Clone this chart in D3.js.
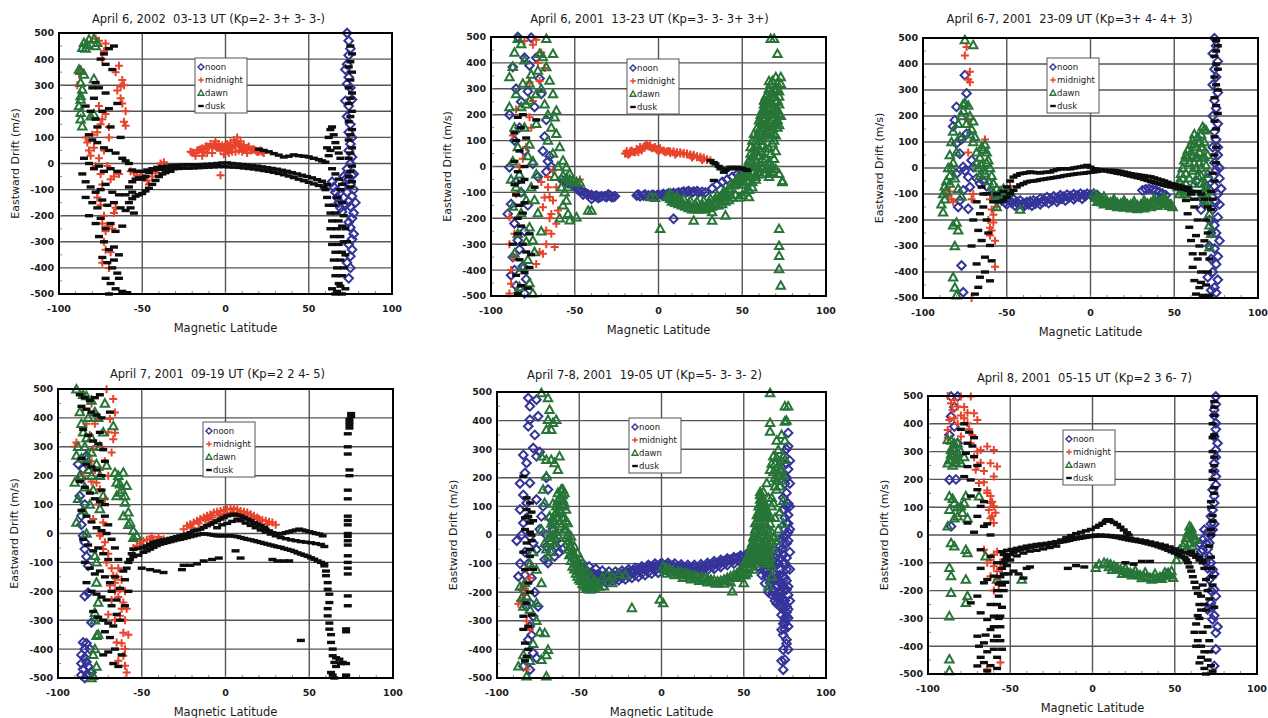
<!DOCTYPE html>
<html>
<head>
<meta charset="utf-8">
<script src="https://cdn.jsdelivr.net/npm/d3@7"></script>
<style>
  body { margin: 0; background: #fff; }
  svg { display: block; font-family: "DejaVu Sans", Verdana, sans-serif; }
</style>
</head>
<body>
<svg id="chart" width="1268" height="718"></svg>
<script>
// ---- data: [magnetic latitude, eastward drift m/s] ----
const seriesNames = ['noon', 'midnight', 'dawn', 'dusk'];
const xTicks = [-100, -50, 0, 50, 100];
const yTicks = [-500, -400, -300, -200, -100, 0, 100, 200, 300, 400, 500];
const titles = [
  'April 6, 2002  03-13 UT (Kp=2- 3+ 3- 3-)',
  'April 6, 2001  13-23 UT (Kp=3- 3- 3+ 3+)',
  'April 6-7, 2001  23-09 UT (Kp=3+ 4- 4+ 3)',
  'April 7, 2001  09-19 UT (Kp=2 2 4- 5)',
  'April 7-8, 2001  19-05 UT (Kp=5- 3- 3- 2)',
  'April 8, 2001  05-15 UT (Kp=2 3 6- 7)'
];

// panel 1
const p1Noon = [[73,500],[74,470],[75,440],[74,415],[73,380],[72,360],[74,330],[73,305],[75,290],[72,240],[74,220],[76,245],[73,180],[75,150],[74,120],[76,100],[75,75],[74,50],[76,25],[75,0],[73,-20],[76,-45],[74,-60],[75,-80],[77,-100],[76,-125],[74,-145],[75,-165],[77,-190],[76,-210],[74,-225],[75,-245],[77,-270],[76,-290],[74,-310],[76,-330],[75,-355],[73,-380],[75,-400],[74,-440],[64,-70],[65,-90],[66,-110],[67,-130],[68,-150],[69,-170],[70,-185],[72,-160],[71,-130],[73,-110],[70,-90],[72,-60],[78,-150],[77,-40],[71,-50]];
const p1Midnight = [[-78,478],[-76,470],[-73,430],[-72,460],[-74,400],[-64,375],[-66,350],[-62,320],[-63,295],[-65,280],[-61,300],[-63,250],[-62,230],[-60,200],[-61,160],[-60,145],[-89,300],[-88,345],[-87,360],[-84,100],[-83,80],[-82,50],[-81,30],[-80,110],[-79,60],[-78,-10],[-76,20],[-75,-40],[-74,-80],[-77,-130],[-75,-160],[-73,-200],[-74,-230],[-71,-240],[-72,-260],[-73,-300],[-72,-330],[-74,-380],[-70,-400],[-69,-340],[-68,-250],[-67,-190],[-66,-170],[-69,-60],[-70,100],[-72,190],[-74,170],[-75,150],[-70,140],[-67,-50],[-64,-40],[-71,-10],[-73,50],[-76,220],[-77,120],
  [-57,-30],[-55,-35],[-53,-45],[-51,-50],[-49,-55],[-47,-65],[-46,-80],[-44,-50],[-42,-35],[-40,-15],[-39,0],[-37,5],
  [-21,45],[-19,40],[-17,50],[-15,55],[-13,45],[-12,65],[-10,60],[-9,75],[-7,70],[-6,85],[-5,60],[-4,75],[-3,50],[-2,70],[-1,60],[0,55],[1,75],[2,65],[3,80],[4,60],[5,90],[6,70],[7,100],[8,75],[9,85],[10,60],[11,70],[12,55],[14,65],[15,50],[17,55],[19,45],[21,50],[23,40],[-3,-45],[-8,40],[-14,30],[2,40],[6,45],[10,45],[-11,40],[13,40],[-18,30],[-1,35],[8,50],[4,45],
  [-20,42],[-16,52],[-14,58],[-11,65],[-8,62],[-6,65],[-4,65],[-2,60],[0,70],[1,55],[3,58],[5,70],[7,82],[9,65],[11,60],[13,60],[16,52],[18,50],[20,45],[22,45]];
const p1Dawn = [[-86,443],[-84,440],[-79,478],[-77,462],[-88,360],[-87,355],[-79,324],[-86,283],[-87,245],[-87,194],[-87,169],[-86,143],[-79,188],[-81,181],[-85,462],[-82,475],[-78,450],[-87,309],[-85,341],[-87,258],[-88,220],[-83,455]];
const p1Dusk = [[-75,400],[-72,380],[-67,450],[-70,440],[-73,420],[-78,310],[-76,290],[-72,270],[-79,250],[-74,200],[-70,210],[-78,170],[-82,110],[-80,90],[-77,80],[-73,60],[-70,50],[-66,40],[-85,20],[-82,0],[-79,-20],[-76,-10],[-73,-30],[-69,-20],[-65,-30],[-62,20],[-60,10],[-58,0],[-86,-40],[-84,-70],[-81,-90],[-78,-110],[-75,-100],[-72,-80],[-68,-110],[-64,-120],[-84,-130],[-80,-150],[-77,-170],[-74,-140],[-71,-160],[-67,-150],[-63,-170],[-60,-180],[-82,-200],[-78,-230],[-75,-210],[-72,-250],[-69,-230],[-66,-260],[-62,-240],[-76,-280],[-73,-300],[-70,-330],[-67,-320],[-64,-350],[-74,-360],[-71,-380],[-68,-400],[-65,-420],[-72,-440],[-69,-460],[-66,-480],[-62,-490],[-70,-500],[-64,-440],[-67,-370],[-59,-495],[-77,140],[-81,200],[-84,220],[-80,290],[-68,360],[-65,230],[-69,140],[-63,100],[-60,-120],
  [-56,-25],[-53,-30],[-50,-30],[-47,-25],[-44,-20],[-41,-15],[-38,-12],[-35,-10],[-32,-8],[-29,-7],[-26,-6],[-23,-5],[-20,-5],[-17,-5],[-14,-4],[-11,-3],[-8,-2],[-5,0],[-2,2],[1,2],[4,0],[7,-2],[10,-4],[13,-6],[16,-8],[19,-10],[22,-13],[25,-16],[28,-19],[31,-22],[34,-26],[37,-30],[40,-35],[43,-40],[46,-45],[49,-50],[52,-55],[55,-62],[58,-68],
  [-58,-90],[-56,-70],[-54,-60],[-52,-55],[-50,-60],[-48,-50],[-46,-35],[-43,-25],[-40,-22],[-37,-22],[-34,-20],[-31,-20],[-28,-19],[-25,-18],[-22,-18],[-19,-17],[-16,-16],[-13,-15],[-10,-14],[-7,-13],[-4,-12],[-1,-12],[2,-13],[5,-14],[8,-15],[11,-17],[14,-19],[17,-21],[20,-24],[23,-27],[26,-30],[29,-34],[32,-38],[35,-43],[38,-48],[41,-54],[44,-60],[47,-66],[50,-72],[53,-78],[56,-84],[59,-90],[61,-80],
  [-58,-150],[-56,-135],[-54,-125],[-52,-120],[-50,-115],[-48,-105],[-46,-95],[-44,-80],[-42,-65],[-40,-50],[-38,-40],[-36,-35],[-33,-30],[-56,-110],[-57,-170],[-55,-190],
  [20,55],[23,50],[26,45],[29,38],[32,32],[35,25],[38,28],[41,33],[44,30],[47,28],[50,25],[53,20],[56,15],[58,10],[60,5],[61,60],[62,100],[63,130],[64,140],[65,110],[66,80],[67,60],[68,40],[69,20],[62,30],[64,-20],[66,-40],[68,-60],[70,-80],[63,50],
  [75,450],[76,420],[75,390],[74,370],[76,350],[75,320],[74,290],[76,270],[75,250],[74,230],[76,200],[75,180],[74,160],[76,130],[75,110],[74,90],[76,60],[75,40],[74,20],[76,-10],[75,-30],[74,-50],[76,-70],[75,-90],
  [60,-100],[61,-130],[62,-160],[63,-190],[64,-220],[63,-250],[65,-280],[64,-310],[66,-340],[65,-370],[67,-400],[66,-430],[68,-460],[67,-490],[69,-470],[70,-430],[71,-400],[69,-370],[70,-340],[68,-310],[69,-280],[67,-250],[68,-220],[66,-190],[65,-160],[67,-130],[69,-100],[70,-150],[71,-200],[72,-250],[71,-300],[72,-350],[73,-300],[70,-240],[64,-480],[66,-500],[70,-500],[72,-480]];

// panel 2
const p2Noon = [[-84,500],[-76,497],[-87,384],[-77,390],[-89,200],[-78,290],[-68,115],[-69,60],[-66,20],[-89,-3],[-90,-183],[-88,-145],[-84,-285],[-87,-350],[-86,-400],[-81,-385],[-79,-435],[-83,-474],[-85,300],[-82,250],[-80,420],[-73,420],[-71,340],[-70,280],[-74,230],[-67,180],[-83,150],[-86,100],[-80,60],[-75,10],[-72,-40],[-85,-60],[-82,-100],[-78,-150],[-86,-220],[-80,-250],[-83,-320],[-88,-420],[-85,-460],[-80,-490],[-65,40],[-64,0],[-67,-20],
  [-58,-50],[-55,-60],[-52,-70],[-49,-85],[-46,-95],[-43,-105],[-40,-110],[-37,-112],[-34,-115],[-31,-118],[-28,-118],[-26,-115],[-40,-125],[-36,-122],[-30,-108],[-45,-108],
  [-56,-55],[-54,-65],[-50,-78],[-48,-90],[-44,-100],[-42,-108],[-38,-115],[-35,-118],[-32,-115],[-29,-112],[-27,-118],
  [-13,-112],[-11,-115],[-9,-112],[-6,-112],[-3,-110],[0,-108],[3,-106],[6,-104],[9,-102],[12,-100],[15,-97],[18,-95],[21,-97],[24,-100],[28,-100],[32,-85],[35,-70],[38,-60],[41,-50],[44,-40],[47,-30],[50,-25],[9,-202],
  [-12,-108],[-8,-108],[-4,-110],[-1,-112],[2,-110],[5,-108],[8,-106],[11,-104],[14,-100],[17,-98],[20,-100],[23,-95],[26,-98]];
const p2Midnight = [[-80,485],[-73,489],[-71,330],[-75,253],[-76,150],[-79,75],[-83,-3],[-85,-106],[-89,-196],[-86,-260],[-89,-300],[-88,-453],[-89,-490],[-66,-80],[-63,-131],[-64,-183],[-61,-221],[-67,-247],[-69,-337],[-73,-376],[-62,-311],[-66,-41],[-63,-15],[-61,-80],[-65,-118],[-69,-157],[-77,325],[-77,190],[-47,-50],[-72,400],[-70,440],[-68,380],[-75,470],[-85,220],[-87,120],[-81,30],[-88,-400],[-87,-350],[-65,-200],[-60,-170],[-68,-120],[-70,-60],[-67,-300],[-71,-330],[-64,-260],
  [-20,50],[-19,60],[-17,50],[-16,62],[-14,55],[-13,68],[-11,75],[-10,62],[-8,80],[-7,88],[-6,78],[-5,82],[-4,70],[-2,75],[-1,65],[1,70],[3,62],[4,55],[6,60],[7,52],[9,58],[11,52],[13,55],[15,48],[17,50],[19,42],[21,45],[23,36],[25,38],[27,30],[29,28],[31,24],[-18,45],[-12,55],[0,58],[10,45],[20,35],[26,25],
  [-19,50],[-17,58],[-15,56],[-13,62],[-11,68],[-9,72],[-7,80],[-5,75],[-3,72],[-1,68],[1,64],[3,60],[5,58],[7,58],[9,55],[11,55],[13,50],[15,52],[17,46],[19,46],[21,40],[23,40],[25,33],[27,34],[29,25]];
const p2Dawn = [[-84,493],[-82,473],[-67,493],[-71,435],[-69,423],[-63,435],[-67,384],[-65,332],[-63,280],[-61,216],[-62,190],[-61,126],[-59,75],[-57,23],[-55,-3],[-53,-28],[-51,-54],[-54,-80],[-55,-131],[-54,-183],[-53,-208],[-49,-196],[-42,-170],[-40,-170],
  [-89,345],[-87,385],[-85,280],[-89,230],[-86,150],[-84,75],[-87,20],[-83,-30],[-85,-80],[-87,-155],[-82,-180],[-84,-260],[-86,-335],[-81,-390],[-83,-465],[-77,-450],[-75,-490],[-78,-360],[-75,-285],[-77,-235],[-79,-130],[-76,-80],[-73,-30],[-75,20],[-77,85],[-73,165],[-77,255],[-73,280],[-77,320],[-76,355],[-80,410],[-72,370],[-70,300],[-68,240],[-66,200],[-64,150],[-66,100],[-63,50],[-60,0],[-62,-40],[-58,-80],[-56,-100],[-57,-150],[-59,-200],[-79,240],[-81,320],[-86,440],[-78,40],[-74,-130],[-72,-180],[-70,-250],[-74,-330],[-79,-290],[-82,-100],[-88,-50],[-80,150],[-82,230],
  [-57,-35],[-55,-45],[-53,-50],[-51,-55],[-49,-60],[-47,-62],
  [5,-118],[7,-125],[9,-131],[11,-138],[13,-144],[15,-147],[17,-150],[19,-154],[21,-157],[23,-157],[25,-157],[27,-154],[29,-150],[31,-144],[33,-138],[35,-128],[37,-118],[39,-108],[41,-99],[43,-86],[45,-73],[47,-57],[49,-41],[51,-28],[52,-15],[53,5],[54,23],[55,50],[55,75],[56,100],[57,126],[59,150],[60,178],[61,200],[62,216],[63,240],[63,255],[64,270],[65,280],[66,300],[67,319],[68,330],[70,345],[73,319],[72,290],[71,255],[72,203],[70,170],[69,126],[68,90],[67,49],[66,20],[65,-3],[66,-28],
  [7,-105],[11,-115],[15,-125],[19,-132],[23,-135],[27,-132],[31,-125],[35,-110],[39,-95],[43,-70],[47,-45],[50,-70],[53,-60],[55,-40],[57,-20],[59,0],[60,40],[62,80],[64,120],[66,160],[67,200],[68,240],[65,230],[63,180],[61,130],[59,80],[57,40],[56,-60],[58,-40],[60,-20],[62,-10],[64,30],[66,70],[68,150],[70,220],[69,270],[71,300],[66,260],[64,200],[62,140],
  [6,-112],[10,-122],[14,-135],[18,-143],[22,-147],[26,-147],[30,-140],[34,-128],[38,-112],[42,-90],[46,-65],[48,-50],[50,-40],[52,-30],[54,0],[56,20],[58,60],[60,100],[61,150],[63,200],[65,250],[67,280],[69,300],[71,320],[58,-30],[60,-10],[62,30],[64,70],[66,110],[68,180],[70,250],[72,270],[71,180],[69,100],[67,130],[65,170],[63,120],[61,60],
  [50,-50],[51,-60],[52,-40],[53,-20],[54,-40],[55,10],[56,40],[56,-20],[57,70],[57,0],[58,100],[58,20],[59,120],[59,40],[60,140],[60,70],[61,170],[61,100],[62,190],[62,110],[63,220],[63,150],[64,250],[64,160],[65,200],[65,130],[66,220],[66,140],[67,240],[67,170],[68,270],[68,200],[69,230],[69,160],[70,200],[70,120],[71,220],[71,150],[72,240],[72,160],[70,60],[69,30],[68,0],[67,-10],[66,-40],[64,-10],[62,0],[60,-30],[58,-50],[56,-80],[54,-90],[52,-100],[50,-110],[48,-120],[46,-110],[44,-120],[42,-130],[40,-135],[38,-145],[36,-150],[34,-150],[32,-155],[30,-160],[28,-165],[26,-165],[24,-165],[22,-165],[20,-165],[18,-160],[16,-155],[14,-150],[12,-145],[10,-140],[8,-135],
  [1,-241],[-5,-118],[-2,-121],[21,-209],[32,-209],[32,-176],[40,-189],[54,-118],[67,493],[69,493],[71,435],[73,196],[72,-28],[74,-60],[72,-241],[72,-306],[72,-345],[72,-396],[73,-460],[70,293],[70,-10],[68,-20],[66,330],[73,345],[74,-55]];
const p2Dusk = [[-84,190],[-82,150],[-85,100],[-83,60],[-86,20],[-84,-20],[-82,-60],[-85,-110],[-83,-150],[-81,-180],[-80,-140],[-84,-260],[-81,-300],[-83,-360],[-80,-410],[-82,-460],[-84,-490],[-79,-330],[-77,-390],[-86,130],[-80,0],[-81,200],[-73,180],[-74,-80],[-76,-340],[-87,-300],[-85,-420],[-82,-230],[-86,-70],[-79,110],[-78,-470],[-80,-50],[-84,-200],[-77,-260],
  [31,23],[33,15],[34,10],[36,0],[37,-9],[39,-22],[40,-15],[41,-9],[43,-3],[45,-9],[47,-3],[49,-6],[50,-9],[52,-12],[53,-15],[33,-54]];

// panel 3
const p3Noon = [[-75,357],[-74,287],[-80,235],[-81,184],[-74,132],[-80,94],[-78,55],[-76,4],[-80,-22],[-73,-35],[-72,-73],[-76,-86],[-78,-125],[-79,-150],[-73,-157],[-77,-375],[-76,-478],[-71,30],[-70,4],[-68,-40],[-66,-60],[-64,-50],[-62,-70],[-82,160],[-77,110],[-75,-10],
  [-58,-100],[-55,-105],[-52,-110],[-50,-120],[-48,-125],[-46,-120],[-44,-130],[-42,-125],[-40,-135],[-38,-131],[-36,-128],[-34,-125],[-32,-130],[-30,-118],[-28,-122],[-26,-112],[-24,-118],[-22,-109],[-20,-115],[-18,-105],[-16,-110],[-14,-103],[-12,-108],[-10,-101],[-8,-106],[-6,-99],[-4,-104],[-2,-99],[0,-102],[2,-99],[4,-104],[-50,-140],[-45,-145],[-40,-148],[-35,-145],[-30,-140],[-25,-135],[-20,-130],[-15,-125],[-10,-120],[-5,-118],[31,-86],[33,-82],[35,-80],[37,-82],[39,-86],[41,-92],[43,-98],[45,-105],
  [-56,-115],[-53,-125],[-51,-132],[-47,-135],[-43,-140],[-39,-142],[-37,-140],[-33,-138],[-29,-132],[-27,-128],[-23,-125],[-19,-120],[-17,-118],[-13,-115],[-9,-112],[-7,-110],[-3,-108],[1,-108],[3,-110],
  [74,499],[75,470],[73,440],[76,410],[74,380],[75,350],[73,320],[76,290],[74,260],[75,230],[73,200],[76,170],[74,140],[75,110],[73,80],[76,50],[74,20],[75,-10],[77,-40],[74,-70],[76,-100],[75,-130],[73,-160],[76,-190],[74,-220],[75,-250],[77,-280],[74,-310],[76,-340],[75,-370],[73,-400],[76,-430],[74,-460],[75,-480],[67,-120],[66,-160],[69,-70],[63,-50],[70,-40],[71,-200],[72,-250],[71,-300],[72,-350],[70,-420],[72,-470],[78,-80],[77,-140],[77,0],[76,80]];
const p3Midnight = [[-74,465],[-75,433],[-72,370],[-73,340],[-72,330],[-73,180],[-73,60],[-63,110],[-70,-100],[-60,-120],[-59,-160],[-58,-180],[-60,-230],[-57,-280],[-57,-380],[-71,-500],[-85,-110],[-86,-100],[-83,-120],[-82,-130],[-84,-90],[-61,-200],[-60,-260],[-56,-150],[-52,-100],[-48,-70],[-58,-210],[-59,-240],[-71,-120]];
const p3Dawn = [[-75,492],[-70,473],[-75,250],[-73,240],[-72,200],[-70,180],[-71,150],[-69,120],[-68,60],[-67,0],[-80,-210],[-82,-220],[-79,-240],[-81,-300],[-82,-420],[-81,-460],[-80,-490],[-88,-170],[-89,-140],[-87,-70],[-86,-50],[-85,0],[-84,50],[-83,100],[-82,140],[-79,170],[-77,200],[-76,245],[-63,90],[-64,70],[-62,60],[-61,30],[-60,0],[-59,-30],[-58,-60],[-56,-80],[-53,-100],[-50,-100],[-56,-150],[-42,-160],[-86,-90],[-84,-60],[-65,80],[-66,40],[-65,10],[-63,-20],[-61,-50],[-59,-90],[-57,-110],[-55,-120],[-54,-90],[-52,-80],[-50,-85],[-48,-90],[-62,20],[-64,-10],[-66,-30],[-68,20],[-70,100],[-72,130],[-74,170],[-76,220],[-78,120],[-80,60],[-82,20],[-84,-30],[-87,-120],[-88,-100],[-83,0],[-81,-40],[-79,-80],[-77,-110],
  [2,-99],[4,-110],[6,-120],[8,-125],[10,-128],[12,-131],[14,-133],[16,-135],[18,-137],[20,-138],[22,-140],[24,-141],[26,-143],[28,-144],[30,-142],[32,-140],[34,-137],[36,-134],[38,-131],[40,-128],[42,-126],[44,-125],[46,-130],[48,-140],[49,-150],[4,-130],[8,-140],[12,-145],[16,-150],[20,-152],[24,-155],[28,-158],[32,-155],[36,-150],[40,-145],[44,-140],[8,-110],[14,-120],[20,-125],[26,-128],[32,-125],[38,-118],[44,-112],
  [3,-115],[5,-125],[7,-132],[9,-136],[11,-138],[13,-140],[15,-142],[17,-145],[19,-146],[21,-148],[23,-148],[25,-150],[27,-152],[29,-150],[31,-148],[33,-146],[35,-142],[37,-140],[39,-137],[41,-134],[43,-132],[45,-135],[47,-145],
  [52,-73],[53,-50],[54,-22],[55,0],[56,30],[57,50],[58,68],[60,90],[61,107],[62,95],[63,81],[64,120],[65,100],[66,130],[67,158],[68,150],[69,145],[68,42],[67,80],[69,10],[70,-22],[69,-73],[68,-125],[71,-176],[72,-253],[71,-305],[55,-40],[57,-20],[59,20],[61,50],[63,40],[65,60],[66,0],[64,-30],[62,-60],[60,-90],[58,-110],[56,-100],[54,-90],[66,-60],[67,-100],[70,50],[70,-130],[71,-220],
  [53,-100],[55,-80],[57,-60],[59,-40],[61,-10],[62,20],[63,0],[64,40],[65,20],[66,80],[67,40],[68,100],[58,40],[60,60],[62,130],[66,-30],[68,-60],[69,-100],[70,-90]];
const p3Dusk = [[-65,-73],[-62,-99],[-64,-150],[-66,-176],[-67,-240],[-65,-279],[-68,-369],[-66,-420],[-67,-459],[-60,-298],[-59,-357],[-60,-434],[-63,-343],[-61,-250],[-69,-485],[-62,-200],[-64,-100],[-68,-130],[-70,-200],[-63,-400],[-71,-300],[-58,-130],[-56,-100],
  [-52,-90],[-50,-73],[-48,-50],[-46,-35],[-44,-28],[-42,-22],[-40,-20],[-38,-18],[-36,-15],[-34,-17],[-32,-18],[-30,-19],[-28,-17],[-26,-16],[-24,-15],[-22,-10],[-20,-6],[-18,-3],[-16,-3],[-14,-3],[-12,-3],[-10,0],[-8,2],[-6,4],[-4,7],[-2,10],[0,3],[2,-3],[4,-5],[6,-7],[8,-9],[10,-9],[12,-9],[14,-9],[16,-11],[18,-13],[20,-16],[22,-19],[24,-22],[26,-24],[28,-26],[30,-28],[32,-30],[34,-32],[36,-34],[38,-38],[40,-42],[42,-46],[44,-50],[46,-55],[48,-60],[50,-64],[52,-67],[54,-70],[56,-73],[58,-76],
  [-54,-130],[-52,-125],[-50,-112],[-48,-99],[-46,-86],[-44,-73],[-42,-65],[-40,-60],[-38,-54],[-36,-51],[-34,-50],[-32,-48],[-30,-45],[-28,-43],[-26,-41],[-24,-39],[-22,-37],[-20,-35],[-18,-33],[-16,-30],[-14,-28],[-12,-26],[-10,-24],[-8,-22],[-6,-21],[-4,-20],[-2,-18],[0,-16],[2,-15],[4,-13],[6,-11],[8,-9],[10,-12],[12,-15],[14,-17],[16,-20],[18,-22],[20,-25],[22,-28],[24,-31],[26,-34],[28,-37],[30,-40],[32,-44],[34,-48],[36,-52],[38,-55],[40,-59],[42,-63],[44,-67],[46,-70],[48,-73],[50,-75],[52,-78],[54,-80],[56,-82],[58,-85],[60,-90],
  [57,-125],[58,-176],[59,-228],[60,-279],[61,-330],[61,-382],[62,-433],[63,-485],[65,-460],[66,-400],[67,-330],[68,-280],[62,-150],[64,-200],[63,-260],[65,-300],[64,-350],[66,-440],[67,-490],[60,-100],[62,-120],[64,-90],[66,-100],[68,-120],[70,-150],[69,-200],[70,-250],[71,-350],[70,-400],[69,-450],[71,-490],
  [75,490],[76,470],[75,450],[74,430],[75,400],[76,380],[74,350],[75,320],[76,300],[74,270],[75,240],[76,210],[74,180],[75,150],[74,120],[75,80],[74,50],[75,20],[73,-20],[74,-50],[72,-90],[73,-120],[72,-160]];

// panel 4
const p4Noon = [[-87,130],[-86,61],[-85,-8],[-84,-54],[-82,-112],[-84,-216],[-82,-205],[-80,-308],[-85,-377],[-84,-400],[-86,-420],[-83,-445],[-85,-470],[-82,-490],[-84,-500],[-86,-490],[-83,269],[-85,223],[-81,-400],[-83,-380],[-84,-430],[-82,-460],[-86,-450],[-80,-480],[-84,-30],[-83,-80],[-86,30],[-84,100],[-86,190],[-88,240]];
const p4Midnight = [[-71,499],[-67,465],[-66,419],[-69,396],[-66,349],[-67,326],[-77,407],[-79,292],[-77,176],[-75,153],[-73,38],[-75,-8],[-73,-54],[-71,-100],[-67,-146],[-66,-170],[-63,-193],[-61,-239],[-63,-285],[-61,-343],[-65,-377],[-61,-423],[-60,-458],[-59,-481],[-89,315],[-90,300],[-86,480],[-85,430],[-83,380],[-81,340],[-80,250],[-78,220],[-76,100],[-74,0],[-72,-30],[-70,-70],[-68,-120],[-65,-150],[-64,-220],[-62,-260],[-60,-300],[-62,-380],[-64,-440],[-60,-400],[-58,-350],[-59,-260],[-60,-200],[-62,-160],[-64,-120],[-66,-200],[-68,-230],[-70,-280],[-66,-300],[-69,-180],[-80,450],[-78,380],[-74,300],[-72,250],[-70,200],[-75,220],[-82,150],[-79,50],[-80,180],[-85,200],[-70,350],[-68,280],[-72,120],
  [-53,-43],[-51,-35],[-49,-25],[-47,-22],[-45,-20],[-43,-22],[-41,-25],[-39,-22],[-37,-20],[-55,-50],[-44,-10],[-40,-12],
  [-23,27],[-21,32],[-19,38],[-17,44],[-15,50],[-13,55],[-11,61],[-9,66],[-7,73],[-5,75],[-3,78],[-1,81],[1,84],[3,86],[5,87],[7,83],[9,78],[11,75],[13,73],[15,67],[17,61],[19,55],[20,50],[22,47],[24,44],[26,41],[28,38],[-20,20],[-16,35],[-12,45],[-8,55],[-4,62],[0,68],[4,72],[8,68],[12,60],[16,52],[20,40],[25,32],[30,30],[-10,50],[-2,58],[6,60],[-25,15]];
const p4Dawn = [[-89,499],[-83,476],[-87,420],[-85,350],[-88,300],[-83,260],[-87,200],[-90,176],[-89,38],[-83,0],[-75,85],[-73,130],[-75,200],[-71,235],[-78,-77],[-77,-100],[-77,-170],[-76,-239],[-78,-274],[-77,-354],[-78,-400],[-79,-492],[-67,372],[-65,176],[-64,200],[-61,211],[-59,165],[-63,142],[-60,107],[-58,73],[-57,38],[-55,9],[-53,-8],[-65,130],[-61,60],[-58,30],[-55,-15],[-85,480],[-80,460],[-78,420],[-82,400],[-86,380],[-80,330],[-84,300],[-80,280],[-86,260],[-82,220],[-84,160],[-88,120],[-85,80],[-79,150],[-81,100],[-77,240],[-75,300],[-73,350],[-76,400],[-72,450],[-80,200],[-83,330],[-89,270],[-78,-300],[-76,-350],[-79,-420],[-77,-460],[-80,-500],[-62,150],[-60,130],[-63,170],[-66,210]];
const p4Dusk = [[-87,480],[-84,470],[-81,460],[-78,470],[-75,480],[-86,440],[-83,430],[-80,420],[-77,410],[-74,400],[-85,360],[-82,340],[-79,320],[-76,310],[-73,290],[-86,260],[-83,240],[-80,230],[-77,220],[-74,200],[-87,180],[-84,160],[-81,140],[-78,120],[-75,110],[-72,100],[-86,80],[-83,60],[-80,40],[-77,20],[-74,10],[-71,0],[-85,-20],[-82,-40],[-79,-60],[-76,-50],[-73,-70],[-70,-90],[-84,-100],[-81,-120],[-78,-140],[-75,-130],[-72,-150],[-69,-170],[-83,-170],[-80,-200],[-77,-210],[-74,-220],[-71,-230],[-68,-250],[-79,-270],[-76,-290],[-73,-300],[-70,-310],[-67,-320],[-65,-280],[-72,-340],[-69,-360],[-66,-400],[-70,-410],[-73,-420],[-67,-450],[-64,-460],[-62,-420],[-63,-300],[-60,-250],[-58,-200],[-60,-160],[-59,-120],[-57,-90],[-56,-70],[-58,-100],[-61,-130],[-63,-190],[-65,-230],[-68,-200],[-66,-150],[-64,-90],[-66,-50],[-68,-20],[-70,30],[-72,60],[-74,150],[-72,250],[-69,420],[-75,350],
  [-55,-55],[-52,-52],[-49,-48],[-47,-43],[-45,-37],[-43,-31],[-41,-28],[-39,-25],[-37,-22],[-35,-20],[-33,-17],[-31,-14],[-29,-11],[-27,-8],[-25,-5],[-23,-2],[-21,3],[-19,9],[-17,12],[-15,15],[-13,21],[-11,27],[-9,32],[-7,38],[-5,44],[-3,50],[-1,55],[1,61],[3,64],[5,67],[7,64],[9,61],[11,55],[13,50],[15,44],[17,38],[19,32],[21,27],[23,21],[24,15],[26,9],[28,3],[30,0],[32,-2],[34,0],[36,3],[38,6],[40,9],[42,12],[44,15],[46,12],[48,9],[50,6],[52,3],[54,0],[56,-2],[58,-8],
  [-5,20],[-2,30],[1,35],[4,42],[7,48],[9,44],[12,36],[15,28],[18,20],[21,12],[24,5],[27,-2],[30,-8],[33,-14],[36,-18],[39,-22],[42,-25],[45,-28],[48,-30],[51,-32],[54,-35],[57,-38],[59,-45],
  [-55,-80],[-52,-75],[-49,-65],[-47,-60],[-45,-54],[-43,-48],[-41,-42],[-39,-37],[-37,-34],[-35,-31],[-33,-28],[-31,-25],[-29,-22],[-27,-20],[-25,-17],[-23,-14],[-21,-11],[-19,-8],[-17,-5],[-15,-2],[-13,-1],[-11,-2],[-9,-4],[-7,-6],[-5,-8],[-3,-8],[-1,-8],[1,-8],[3,-8],[5,-9],[7,-11],[9,-14],[11,-17],[13,-20],[15,-22],[17,-25],[19,-28],[21,-31],[23,-34],[25,-37],[27,-40],[29,-43],[31,-46],[33,-48],[35,-52],[37,-55],[39,-58],[41,-62],[43,-67],[45,-71],[47,-75],[49,-79],[51,-84],[53,-89],[55,-95],[57,-100],[59,-105],
  [-50,-120],[-45,-125],[-41,-130],[-37,-135],[-26,-125],[-25,-110],[-21,-110],[-17,-105],[-13,-95],[-8,-90],[-4,-85],[6,-60],[9,-85],[28,-90],[31,-95],[35,-95],[38,-95],[45,-370],
  [59,-112],[60,-146],[61,-193],[62,-239],[61,-285],[62,-331],[63,-377],[64,-423],[65,-446],[68,-435],[70,-446],[63,-481],[65,-500],[60,-130],[61,-170],[62,-210],[61,-260],[62,-310],[63,-350],[64,-400],[66,-460],[72,-490],[64,-490],[66,-430],[69,-450],
  [75,415],[75,405],[74,395],[74,385],[74,375],[74,365],[73,345],[73,275],[74,220],[74,200],[73,150],[73,120],[73,60],[73,45],[73,30],[73,0],[73,-10],[73,-40],[73,-77],[73,-100],[73,-120],[73,-140],[73,-216],[73,-250],[72,-330],[72,-340],[72,-450],[72,-492],[73,300],[73,-25]];

// panel 5
const p5Noon = [[-81,479],[-80,450],[-76,473],[-80,403],[-81,380],[-75,415],[-78,304],[-76,275],[-82,252],[-83,217],[-80,182],[-76,124],[-82,112],[-86,89],[-84,42],[-80,-5],[-78,-28],[-76,-51],[-71,-86],[-73,65],[-69,159],[-67,-5],[-65,-75],[-69,-98],[-87,-145],[-84,-191],[-80,-238],[-78,-284],[-80,-319],[-81,-366],[-78,-413],[-84,-459],[-80,-471],[-84,140],[-82,60],[-85,0],[-83,-60],[-81,-100],[-79,-150],[-77,-200],[-75,-250],[-82,-250],[-79,-350],[-76,-430],[-74,20],[-72,100],[-70,200],[-74,290],[-77,350],[-84,280],[-86,180],[-88,-20],[-86,-100],[-83,-140],[-70,-40],[-68,60],[-66,20],[-64,-40],[-62,-60],[-60,-50],[-64,-20],[-66,40],[-70,0],
  [-55,-75],[-53,-85],[-51,-98],[-49,-110],[-47,-121],[-45,-127],[-43,-133],[-41,-136],[-39,-139],[-37,-142],[-35,-145],[-33,-145],[-31,-145],[-29,-142],[-27,-139],[-25,-136],[-23,-133],[-21,-130],[-19,-127],[-17,-124],[-15,-121],[-13,-118],[-11,-115],[-9,-112],[-7,-110],[-5,-108],[-3,-107],[-1,-105],[1,-104],[3,-104],[5,-104],[7,-107],[10,-110],[12,-112],[14,-115],[16,-115],[18,-115],[20,-115],[22,-115],[24,-112],[26,-110],[28,-107],[30,-104],[32,-101],[34,-98],[36,-95],[38,-92],[40,-89],[42,-86],[44,-83],[46,-80],[48,-78],[50,-75],[52,-69],[54,-63],[56,-57],[58,-51],[60,-50],
  [-40,-150],[-36,-155],[-32,-158],[-28,-155],[-24,-150],[-20,-145],[-16,-140],[-12,-135],[-8,-130],[-4,-125],[0,-120],[4,-118],[8,-122],[12,-125],[16,-128],[20,-128],[24,-125],[28,-122],[32,-118],[36,-112],[40,-105],[44,-100],[48,-95],[52,-88],[56,-80],[-50,-130],[-46,-140],[-44,-145],
  [-45,-135],[-41,-145],[-37,-150],[-33,-152],[-29,-150],[-25,-143],[-21,-138],[-17,-132],[-13,-127],[-9,-122],[-5,-117],[-1,-113],[3,-111],[7,-114],[11,-118],[15,-121],[19,-122],[23,-120],[27,-115],[31,-110],[35,-104],[39,-97],[43,-92],[47,-87],[51,-82],[55,-70],
  [-48,-100],[-44,-110],[-40,-118],[-36,-125],[-32,-128],[-28,-128],[-24,-125],[-20,-120],[-16,-115],[-12,-110],[-8,-105],[-4,-100],[0,-98],[4,-98],[8,-100],[12,-103],[16,-105],[20,-105],[24,-102],[28,-98],[32,-92],[36,-87],[40,-82],[44,-78],[48,-72],[52,-65],[56,-60],[60,-55],
  [-42,-160],[-38,-165],[-34,-165],[-30,-160],[-26,-158],[-22,-155],[-18,-150],[-14,-146],[-10,-140],[-6,-135],[-2,-132],
  [77,310],[75,275],[75,205],[76,147],[74,89],[76,42],[74,-5],[73,-51],[75,-98],[74,-145],[76,-191],[72,-168],[70,-214],[68,-191],[66,-168],[64,-145],[62,-121],[74,-261],[76,-284],[73,-331],[76,-366],[74,-401],[75,-436],[74,-471],[77,357],[76,250],[75,180],[77,110],[75,60],[77,10],[76,-30],[74,-70],[76,-120],[72,-120],[70,-150],[68,-130],[66,-110],[64,-100],[62,-90],[60,-70],[63,-60],[65,-40],[67,-60],[69,-80],[71,-100],[73,-200],[75,-230],[72,-250],[77,-320],[75,-310],[74,-350],[77,-400],[73,-440],[71,-200],[69,-230],[67,-210],[65,-200],[63,-170],[61,-140],[59,-110],[71,-60],[73,-20],[75,20],[77,70],[74,130],[76,200],
  [62,-100],[64,-120],[66,-140],[68,-160],[70,-180],[72,-200],[74,-180],[76,-160],[60,-90],[63,-80],[66,-90],[69,-110],[72,-140],[75,-150],[77,-180],[76,-250],[74,-230],[72,-220],[70,-240],[78,-230],[77,-260],[75,-290],[74,-310],[76,-380],[75,-330],
  [64,-80],[66,-75],[68,-90],[70,-100],[72,-80],[74,-100],[76,-80],[63,-130],[65,-150],[67,-150],[69,-140],[71,-160],[73,-170],[75,-190],[77,-210],[68,-200],[70,-220],[72,-230],[74,-250],[76,-270],[73,-280],[75,-300],[77,-290],[78,-120],[78,-60],[77,-20],[76,0],[74,-30],[72,-40],[78,20],[77,40],[78,100],[76,100],[78,180],[77,230],[76,300],[78,260]];
const p5Midnight = [[-84,-170],[-85,-190],[-83,-210],[-86,-230],[-80,-150],[-82,-120],[-85,-230],[-80,-330],[-82,-470],[-82,-300],[-87,-240],[-83,-190]];
const p5Dawn = [[-73,496],[-69,479],[-68,438],[-69,403],[-66,392],[-64,403],[-67,368],[-70,368],[-73,275],[-70,263],[-67,263],[-65,252],[-62,275],[-63,228],[-70,205],[-72,159],[-71,112],[-68,65],[-67,40],[-63,147],[-61,159],[-59,147],[-60,124],[-58,89],[-57,42],[-55,-5],[-53,-40],[-51,-63],[-49,-86],[-47,-110],[-45,-127],[-43,-145],[-41,-156],[-39,-168],[-35,-179],[-30,-168],[-18,-255],[1,-238],[-1,-226],[-83,-168],[-86,-180],[-82,-214],[-80,-261],[-71,-343],[-69,-401],[-73,-436],[-87,-459],[-82,-494],[-70,-494],[-76,-238],[-73,-168],[-76,-121],[-69,-75],[-71,-28],[-73,19],[-62,130],[-60,100],[-59,60],[-58,20],[-57,-20],[-56,-40],[-54,-60],[-52,-80],[-50,-100],[-48,-120],[-46,-140],[-44,-160],[-42,-170],[-40,-175],[-38,-180],[-60,160],[-62,90],[-64,60],[-66,20],[-68,-10],[-70,-50],[-64,100],[-66,110],[-61,30],[-63,0],[-65,-30],[-67,-60],[-80,-100],[-78,-60],[-85,-220],[-84,-250],[-78,-380],[-76,-300],[-74,-340],[-70,-420],[-84,-420],[-80,-440],[-36,-150],[-33,-140],[-30,-145],[-26,-135],[-22,-140],
  [-63,120],[-62,100],[-61,120],[-61,80],[-60,60],[-60,140],[-59,110],[-59,20],[-58,50],[-58,-10],[-57,0],[-57,-50],[-56,-20],[-56,-70],[-55,-40],[-55,-90],[-54,-70],[-54,-110],[-53,-90],[-53,-120],[-52,-100],[-52,-135],[-51,-115],[-51,-145],[-50,-125],[-50,-155],[-49,-135],[-49,-160],[-48,-140],[-48,-170],[-47,-150],[-47,-175],[-46,-160],[-46,-180],[-45,-165],[-45,-185],[-44,-170],[-44,-190],[-43,-175],[-43,-190],[-42,-180],[-41,-185],[-62,40],[-63,60],[-64,80],[-65,50],[-66,0],[-67,-20],[-65,-10],[-64,10],[-66,60],
  [1,-110],[3,-115],[5,-121],[7,-124],[10,-127],[12,-130],[14,-133],[16,-136],[18,-139],[20,-142],[22,-145],[24,-148],[26,-150],[28,-153],[30,-156],[32,-158],[34,-162],[36,-160],[38,-156],[40,-150],[42,-145],[44,-139],[46,-133],[48,-120],[50,-110],[52,-80],[54,-51],[55,-30],[56,-5],[57,20],[57,42],[58,70],[59,100],[60,124],[61,110],[62,89],[62,60],[63,42],[64,20],[64,-5],[65,-30],[65,-51],[66,-75],[66,-98],[67,-145],[64,182],[66,228],[68,275],[71,298],[74,275],[72,205],[70,159],[68,112],[66,65],[66,392],[66,362],[75,397],[75,450],[66,496],[75,263],[43,-197],[50,-168],[52,-133],[56,-121],[65,-179],
  [3,-135],[8,-140],[13,-150],[18,-155],[23,-160],[28,-165],[33,-170],[38,-170],[42,-165],[46,-150],[50,-140],[54,-100],[56,-80],[58,-60],[60,-40],[62,0],[63,60],[61,70],[59,40],[58,0],[57,-30],[60,150],[62,150],[65,130],[67,100],[69,60],[71,20],[70,-20],[68,-50],[67,-20],[69,200],[71,240],[73,230],[68,220],[70,330],[73,350],[75,330],[76,400],[77,450],[70,270],[72,170],[74,120],[72,80],[74,40],
  [2,-125],[6,-130],[10,-135],[15,-142],[20,-150],[25,-155],[30,-162],[35,-168],[40,-160],[45,-145],[48,-130],
  [58,30],[59,70],[60,60],[61,90],[62,120],[63,100],[64,80],[65,60],[66,40],[67,10],[68,-10],[58,-20],[60,-60],[62,-30],[63,-70],[64,-50],[61,-80],[59,-90],[57,-60],[55,-60],[53,-80],[51,-95],[67,130],[69,170],[70,190],[71,210],[72,230],[74,210],[73,190],[67,250],[69,250],
  [48,-150],[49,-130],[50,-120],[51,-100],[52,-90],[53,-70],[54,-60],[55,-40],[56,-10],[57,10],[58,50],[59,80],[60,110],[60,140],[61,130],[61,40],[60,0],[59,-20],[58,-40],[57,-70],[56,-90],[55,-100],[54,-110],[53,-120],[52,-130],[51,-140],[62,100],[62,20],[63,-20],[63,70],[64,30],[64,-40],[65,-60],[65,10],[66,-20],[66,-80],[67,-110],[60,-60],[61,-30],[62,-50],[59,10],[58,-80],[57,-100],[59,-60],[61,-90],[63,-90],[64,-100]];
const p5Dusk = [[-82,89],[-81,65],[-83,19],[-80,42],[-82,-28],[-80,-75],[-83,-121],[-81,-168],[-82,-238],[-84,-284],[-81,-319],[-83,-378],[-82,-424],[-80,112],[-84,205],[-79,0],[-80,-50],[-84,-60],[-79,80],[-78,50],[-80,-200],[-79,-280],[-84,-330],[-81,-400],[-83,-440],[-80,10],[-82,130],[-83,60],[-79,-20],[-78,-120]];

// panel 6
const p6Noon = [[-86,498],[-82,498],[-86,426],[-84,390],[-82,330],[-85,306],[-87,199],[-86,31],[-84,460],[-83,200],[-87,360],
  [75,498],[74,450],[75,402],[74,354],[75,306],[74,258],[75,210],[73,163],[74,115],[72,67],[73,19],[71,-29],[67,-53],[65,-29],[71,-77],[69,-100],[73,-124],[71,-160],[74,-196],[72,-244],[70,-268],[73,-304],[75,-352],[75,-411],[74,-471],[68,19],[67,-17],[75,-220],[75,470],[74,430],[75,380],[76,330],[75,280],[74,230],[75,180],[74,140],[73,90],[74,40],[72,0],[70,-50],[72,-100],[74,-140],[70,-120],[68,-80],[72,-200],[73,-260],[74,-290],[76,-330],[66,-60],[69,-30],[70,10],[72,40]];
const p6Midnight = [[-88,500],[-84,486],[-80,498],[-74,498],[-72,438],[-70,414],[-76,402],[-80,354],[-74,330],[-68,306],[-64,318],[-60,306],[-62,258],[-58,246],[-60,210],[-64,151],[-62,115],[-60,103],[-61,67],[-60,43],[-69,187],[-71,235],[-88,378],[-87,414],[-82,462],[-66,-53],[-64,-100],[-60,-112],[-58,-160],[-62,-148],[-56,-459],[-64,-483],[-86,474],[-85,450],[-54,-89],[-52,-77],[-78,420],[-75,380],[-73,360],[-70,300],[-72,280],[-68,260],[-66,230],[-70,250],[-66,190],[-64,160],[-62,140],[-63,90],[-61,120],[-59,80],[-62,60],[-78,460],[-76,440],[-82,400],[-80,430],[-84,420],[-88,350],[-56,-100],[-58,-130],[-60,-70],[-62,-90],[-57,-180],[-60,-200],[-58,-60],[-55,-120]];
const p6Dawn = [[-88,342],[-86,306],[-84,330],[-82,294],[-88,258],[-86,270],[-80,258],[-87,139],[-84,115],[-80,103],[-78,115],[-87,91],[-82,67],[-88,31],[-86,-29],[-84,-41],[-77,-53],[-76,-65],[-87,-118],[-86,-148],[-77,-160],[-86,-208],[-76,-220],[-77,-244],[-87,-292],[-87,-447],[-87,-489],[-69,139],[-65,-77],[-58,-160],[-43,-160],[2,-118],[-85,290],[-83,280],[-84,310],[-86,290],[-83,260],[-81,270],[-85,250],[-82,330],[-80,300],[-78,280],[-85,130],[-82,100],[-79,80],[-76,60],[-84,60],[-77,140],[-87,270],[-86,340],
  [4,-105],[7,-100],[9,-103],[11,-106],[13,-112],[15,-118],[17,-124],[19,-130],[21,-133],[23,-136],[25,-139],[27,-142],[29,-145],[31,-148],[33,-151],[35,-154],[37,-154],[39,-154],[41,-151],[43,-148],[45,-142],[46,-136],[48,-130],[49,-154],[51,-90],[53,-53],[55,-40],[56,-29],[57,-10],[58,7],[59,31],[60,20],[61,-5],[62,-15],[63,-17],[54,-70],[57,-50],[59,-30],[61,-40],[12,-125],[18,-140],[24,-145],[30,-155],[36,-160],[42,-158],[47,-145],[10,-115],[20,-120],[26,-128],[32,-135],[38,-140],[44,-135],[58,0],[60,10],[59,15],[60,25]];
const p6Dusk = [[-78,210],[-74,198],[-70,163],[-76,246],[-72,282],[-77,294],[-68,103],[-70,67],[-76,43],[-66,31],[-68,-53],[-62,-77],[-58,-100],[-60,-148],[-66,-172],[-70,-220],[-74,-244],[-68,-280],[-64,-304],[-60,-292],[-70,-364],[-66,-388],[-62,-340],[-58,-364],[-60,-411],[-66,-459],[-70,-471],[-64,-489],[-56,-292],[-57,-220],[-56,-172],[-55,-411],[-78,400],[-75,370],[-72,350],[-80,380],[-76,330],[-73,320],[-70,250],[-74,140],[-66,120],[-64,40],[-62,0],[-72,10],[-68,-120],[-64,-160],[-62,-250],[-58,-250],[-56,-330],[-60,-380],[-64,-420],[-68,-440],[-62,-470],[-58,-440],[-56,-380],[-55,-260],[-57,-300],[-60,-330],[-65,-360],[-69,-400],[-58,-480],[-54,-200],[-54,-140],
  [-58,-200],[-57,-175],[-56,-150],[-55,-120],[-54,-100],[-53,-90],[-52,-80],[-50,-70],[-48,-62],[-46,-57],[-44,-53],[-42,-50],[-40,-47],[-38,-44],[-36,-42],[-34,-40],[-32,-38],[-30,-36],[-28,-34],[-26,-32],[-24,-30],[-22,-28],[-20,-26],[-18,-24],[-16,-22],[-14,-19],[-12,-16],[-10,-14],[-8,-12],[-6,-10],[-4,-8],[-2,-6],[0,-5],[2,-4],[4,-3],[6,-3],[8,-4],[10,-5],[12,-6],[14,-8],[16,-10],[18,-13],[20,-15],[22,-18],[24,-20],[26,-22],[28,-24],[30,-26],[32,-29],[34,-32],[36,-35],[38,-38],[40,-42],[42,-46],[44,-50],[46,-55],[48,-60],[50,-65],[52,-70],[54,-76],[56,-82],[57,-90],[58,-100],[59,-115],[60,-130],[61,-150],[62,-170],[63,-190],[64,-210],[65,-250],
  [-55,-60],[-52,-55],[-49,-52],[-46,-48],[-43,-44],[-40,-40],[-37,-37],[-34,-34],[-31,-32],[-28,-30],[-25,-27],[-22,-24],[-19,-21],[-16,-17],[-13,-13],[-10,-10],[-7,-7],[-4,-4],[-1,-2],[2,0],[5,0],[8,-1],[11,-2],[14,-4],[17,-6],[20,-9],[23,-12],[26,-15],[29,-18],[32,-21],[35,-25],[38,-29],[41,-33],[44,-37],[47,-43],[50,-50],[53,-57],[56,-62],[59,-68],[61,-72],[63,-80],[65,-90],[67,-100],[-50,-90],[-46,-75],[-42,-65],[-38,-58],[-34,-55],[-30,-50],[-26,-45],[-22,-40],[-54,-70],[-52,-110],[-51,-140],[-53,-170],[-55,-180],
  [-22,-25],[-19,-18],[-16,-10],[-13,-2],[-10,5],[-7,10],[-4,15],[-1,20],[2,28],[4,35],[6,42],[8,50],[9,55],[10,55],[11,50],[13,45],[15,38],[17,28],[19,18],[21,8],[22,0],
  [60,-60],[62,-70],[65,-80],[67,-90],[68,-120],[69,-160],[70,-200],[71,-230],[68,-250],[66,-270],[65,-300],[63,-320],[62,-350],[64,-380],[66,-400],[68,-420],[70,-450],[72,-470],[73,-490],[68,-480],[66,-440],[64,-290],[66,-220],[67,-180],[69,-270],[70,-330],[71,-380],[67,-350],[69,-500],[65,-460],[63,-400],[71,-420],
  [74,480],[74,430],[73,400],[74,360],[73,300],[74,250],[73,200],[74,150],[72,100],[73,50],[72,0],[71,-40],[72,-120],[73,-180],[74,-260],[74,460],[73,350],[74,280],[73,230],[74,170],[72,120],[73,70],[72,20],[72,-80],[73,-150],
  [-15,-120],[-10,-110],[-5,-115],[20,-100],[25,-105],[30,-95],[35,-95],[-45,-140],[-42,-155],[-48,-130],[-40,-120],[-38,-115]];

const panelSeries = [
  [p1Noon, p1Midnight, p1Dawn, p1Dusk],
  [p2Noon, p2Midnight, p2Dawn, p2Dusk],
  [p3Noon, p3Midnight, p3Dawn, p3Dusk],
  [p4Noon, p4Midnight, p4Dawn, p4Dusk],
  [p5Noon, p5Midnight, p5Dawn, p5Dusk],
  [p6Noon, p6Midnight, p6Dawn, p6Dusk]
];

// ---- layout: pixel box of each plot area, title and legend offsets ----
const layout = [
  { x0: 59,  x1: 392,  y0: 33,  y1: 294, tdx: -17, tdy: -10, lx: 195,  ly: 58 },
  { x0: 491, x1: 826,  y0: 37,  y1: 296, tdx: -9,  tdy: -14, lx: 627,  ly: 59 },
  { x0: 923, x1: 1258, y0: 38,  y1: 298, tdx: -21, tdy: -15, lx: 1047, ly: 58 },
  { x0: 58,  x1: 393,  y0: 389, y1: 678, tdx: -8,  tdy: -11, lx: 203,  ly: 422 },
  { x0: 497, x1: 826,  y0: 392, y1: 678, tdx: -17, tdy: -13, lx: 629,  ly: 418 },
  { x0: 928, x1: 1257, y0: 396, y1: 674, tdx: -8,  tdy: -14, lx: 1063, ly: 430 }
];

const colors = { noon: '#34349a', midnight: '#e8432b', dawn: '#277537', dusk: '#0d0d0d' };

const svg = d3.select('#chart');

// marker painters
function drawMarker(sel, name) {
  if (name === 'noon') {
    sel.append('path').attr('d', 'M0,-4.3L4.3,0L0,4.3L-4.3,0Z')
      .attr('fill', 'none').attr('stroke', colors.noon).attr('stroke-width', 2);
  } else if (name === 'midnight') {
    sel.append('path').attr('d', 'M-4,0H4M0,-4V4')
      .attr('fill', 'none').attr('stroke', colors.midnight).attr('stroke-width', 2);
  } else if (name === 'dawn') {
    sel.append('path').attr('d', 'M0,-4.3L4.2,3.2L-4.2,3.2Z')
      .attr('fill', 'none').attr('stroke', colors.dawn).attr('stroke-width', 2);
  } else {
    sel.append('rect').attr('x', -4).attr('y', -1.7).attr('width', 8).attr('height', 3.4)
      .attr('fill', colors.dusk);
  }
}

layout.forEach((L, i) => {
  const x = d3.scaleLinear().domain([-100, 100]).range([L.x0, L.x1]);
  const y = d3.scaleLinear().domain([-500, 500]).range([L.y1, L.y0]);
  const g = svg.append('g').attr('class', 'panel');

  // grid
  g.append('g').selectAll('line').data(xTicks).join('line')
    .attr('x1', d => x(d)).attr('x2', d => x(d)).attr('y1', L.y0).attr('y2', L.y1)
    .attr('stroke', '#555').attr('stroke-width', 1.4);
  g.append('g').selectAll('line').data(yTicks).join('line')
    .attr('x1', L.x0).attr('x2', L.x1).attr('y1', d => y(d)).attr('y2', d => y(d))
    .attr('stroke', '#555').attr('stroke-width', 1.4);

  // minor ticks inside the frame
  g.append('g').selectAll('line').data(d3.range(-90, 100, 10)).join('line')
    .attr('x1', d => x(d)).attr('x2', d => x(d)).attr('y1', L.y1).attr('y2', L.y1 - 3)
    .attr('stroke', '#888');
  g.append('g').selectAll('line').data(d3.range(-450, 500, 50)).join('line')
    .attr('x1', L.x0).attr('x2', L.x0 + 3).attr('y1', d => y(d)).attr('y2', d => y(d))
    .attr('stroke', '#888');

  // series, drawn in Excel order so later series sit on top
  panelSeries[i].forEach((pts, s) => {
    const name = seriesNames[s];
    g.append('g').selectAll('g').data(pts).join('g')
      .attr('transform', d => `translate(${x(d[0])},${y(d[1])})`)
      .each(function() { drawMarker(d3.select(this), name); });
  });

  // frame
  g.append('rect').attr('x', L.x0).attr('y', L.y0)
    .attr('width', L.x1 - L.x0).attr('height', L.y1 - L.y0)
    .attr('fill', 'none').attr('stroke', '#000').attr('stroke-width', 2);

  // tick labels
  g.append('g').selectAll('text').data(yTicks).join('text')
    .attr('x', L.x0 - 5).attr('y', d => y(d)).attr('dy', '0.36em')
    .attr('text-anchor', 'end').attr('font-size', 9.5).attr('font-weight', 'bold')
    .attr('fill', '#1a1a1a').text(d => d);
  g.append('g').selectAll('text').data(xTicks).join('text')
    .attr('x', d => x(d)).attr('y', L.y1 + 18)
    .attr('text-anchor', 'middle').attr('font-size', 9.5).attr('font-weight', 'bold')
    .attr('fill', '#1a1a1a').text(d => d);

  // axis titles
  g.append('text').attr('x', (L.x0 + L.x1) / 2).attr('y', L.y1 + 38)
    .attr('text-anchor', 'middle').attr('font-size', 11.5).attr('fill', '#1a1a1a')
    .text('Magnetic Latitude');
  g.append('text')
    .attr('transform', `translate(${L.x0 - 40},${(L.y0 + L.y1) / 2}) rotate(-90)`)
    .attr('text-anchor', 'middle').attr('font-size', 11).attr('fill', '#1a1a1a')
    .text('Eastward Drift (m/s)');

  // title
  g.append('text').attr('x', (L.x0 + L.x1) / 2 + L.tdx).attr('y', L.y0 + L.tdy)
    .attr('text-anchor', 'middle').attr('font-size', 11.5).attr('fill', '#1a1a1a')
    .style('white-space', 'pre').text(titles[i]);

  // legend
  const lg = g.append('g').attr('transform', `translate(${L.lx},${L.ly})`);
  lg.append('rect').attr('width', 52).attr('height', 55)
    .attr('fill', '#fff').attr('stroke', '#555').attr('stroke-width', 1);
  seriesNames.forEach((n, k) => {
    const row = lg.append('g').attr('transform', `translate(6,${9 + k * 13})`);
    drawMarker(row.append('g').attr('transform', 'scale(0.7)'), n);
    row.append('text').attr('x', 4).attr('dy', '0.35em')
      .attr('font-size', 8.5).attr('fill', '#1a1a1a').text(n);
  });
});
</script>
</body>
</html>
